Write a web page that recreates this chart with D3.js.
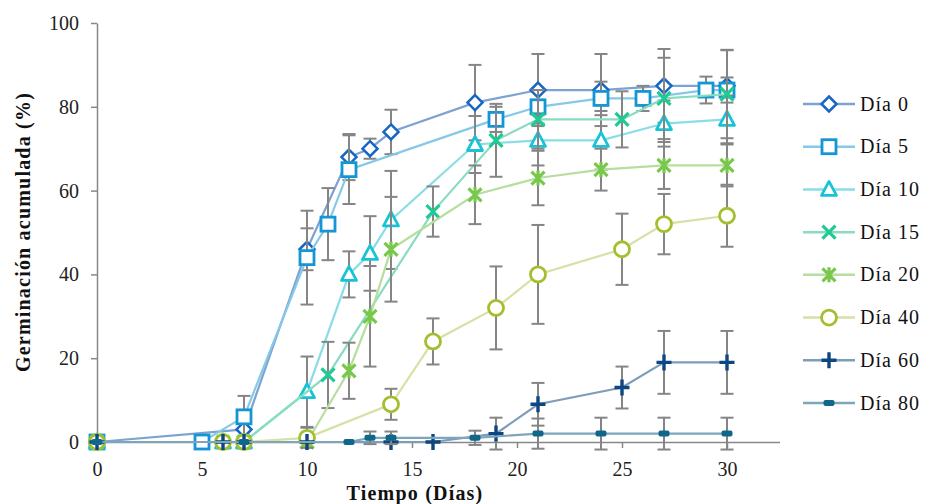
<!DOCTYPE html>
<html>
<head>
<meta charset="utf-8">
<script src="https://cdn.jsdelivr.net/npm/d3@7"></script>
<style>
  body { margin: 0; background: #fff; }
  text { font-family: "Liberation Serif", "DejaVu Serif", serif; }
</style>
</head>
<body>
<svg id="chart" width="925" height="504"></svg>
<script>
// datos
const names = ['Día 0', 'Día 5', 'Día 10', 'Día 15', 'Día 20', 'Día 40', 'Día 60', 'Día 80']

const days0 = [0, 7, 10, 12, 13, 14, 18, 21, 24, 27, 30]
const vals0 = [0, 3, 46, 68, 70, 74, 81, 84, 84, 85, 85]
const errs0 = [0, 0, 5, 5.5, 2.4, 5.3, 9, 8.6, 8.6, 8.8, 8.6]

const days5 = [0, 5, 7, 10, 11, 12, 19, 21, 24, 26, 29, 30]
const vals5 = [0, 0, 6, 44, 52, 65, 77, 80, 82, 82, 84, 84]
const errs5 = [0, 0, 5, 11.2, 8.6, 8.2, 3, 4, 4, 3, 3.2, 3]

const days10 = [0, 6, 7, 10, 12, 13, 14, 18, 21, 24, 27, 30]
const vals10 = [0, 0, 0, 12, 40, 45, 53, 71, 72, 72, 76, 77]
const errs10 = [0, 0, 0, 8.4, 5.5, 8.9, 11.7, 6.8, 6, 7, 5.5, 5.7]

const days15 = [0, 7, 11, 16, 19, 21, 25, 27, 30]
const vals15 = [0, 0, 16, 55, 72, 77, 77, 82, 83]
const errs15 = [0, 0, 7.9, 6, 8.7, 7, 6.7, 9.7, 10.5]

const days20 = [0, 6, 7, 10, 12, 13, 14, 18, 21, 24, 27, 30]
const vals20 = [0, 0, 0, 0, 17, 30, 46, 59, 63, 65, 66, 66]
const errs20 = [0, 0, 0, 0, 6.7, 12, 12.5, 7, 6.5, 5, 5.6, 5]

const days40 = [0, 6, 7, 10, 14, 16, 19, 21, 25, 27, 30]
const vals40 = [0, 0, 0, 1, 9, 24, 32, 40, 46, 52, 54]
const errs40 = [0, 0, 0, 2.4, 3.7, 5.5, 9.9, 11.8, 8.5, 7.2, 7.4]

const days60 = [0, 6, 7, 10, 14, 16, 19, 21, 25, 27, 30]
const vals60 = [0, 0, 0, 0, 0, 0, 2, 9, 13, 19, 19]
const errs60 = [0, 0, 0, 0, 0, 0, 3.8, 5.1, 5, 7.5, 7.5]

const days80 = [0, 7, 12, 13, 14, 18, 21, 24, 27, 30]
const vals80 = [0, 0, 0, 1, 1, 1, 2, 2, 2, 2]
const errs80 = [0, 0, 0, 1.5, 1.5, 1.7, 3.6, 3.8, 3.8, 3.8]

const xTicks = [0, 5, 10, 15, 20, 25, 30]
const yTicks = [0, 20, 40, 60, 80, 100]

const markerColors = ['#1766c4', '#1596d4', '#19c3d6', '#1ecb94', '#77c84b', '#a3bf30', '#0d4680', '#106789']
const lineColors = ['#7da3d2', '#86c8e8', '#8adde7', '#8adcc1', '#b6de9f', '#d5e1a6', '#7e9cbc', '#7ca6ba']
const shapes = ['diamond', 'square', 'triangle', 'x', 'asterisk', 'circle', 'plus', 'dash']

const allDays = [days0, days5, days10, days15, days20, days40, days60, days80]
const allVals = [vals0, vals5, vals10, vals15, vals20, vals40, vals60, vals80]
const allErrs = [errs0, errs5, errs10, errs15, errs20, errs40, errs60, errs80]

const series = names.map((name, i) => ({
  name,
  color: markerColors[i],
  line: lineColors[i],
  shape: shapes[i],
  points: allDays[i].map((d, j) => ({ day: d, value: allVals[i][j], err: allErrs[i][j] })),
}))

const svg = d3.select('#chart')
const x = d3.scaleLinear().domain([0, 32.5]).range([97, 779.5])
const y = d3.scaleLinear().domain([0, 100]).range([442, 23])
const axisColor = '#888'

// ejes
const yAxis = svg.append('g')
  .attr('transform', `translate(${x(0)},0)`)
  .call(d3.axisLeft(y).tickValues(yTicks).tickSize(6).tickSizeOuter(0).tickPadding(12))
const xAxis = svg.append('g')
  .attr('transform', `translate(0,${y(0)})`)
  .call(d3.axisBottom(x).tickValues(xTicks).tickSize(6).tickSizeOuter(0).tickPadding(14))
for (const g of [xAxis, yAxis]) {
  g.select('.domain').attr('stroke', axisColor).attr('stroke-width', 1.5)
  g.selectAll('.tick line').attr('stroke', axisColor).attr('stroke-width', 1.5)
  g.selectAll('.tick text')
    .attr('fill', '#222')
    .style('font-family', '"Liberation Serif", serif')
    .style('font-size', '20px')
}

svg.append('text')
  .attr('transform', 'translate(30,232) rotate(-90)')
  .attr('text-anchor', 'middle')
  .attr('font-size', 20)
  .attr('font-weight', 'bold')
  .attr('letter-spacing', 1.2)
  .attr('fill', '#111')
  .text('Germinación acumulada (%)')

svg.append('text')
  .attr('x', 415)
  .attr('y', 500)
  .attr('text-anchor', 'middle')
  .attr('font-size', 20)
  .attr('font-weight', 'bold')
  .attr('letter-spacing', 1.2)
  .attr('fill', '#111')
  .text('Tiempo (Días)')

function drawMarker(g, shape, color) {
  if (shape === 'diamond') {
    g.append('path').attr('d', 'M0,-7.5L7.5,0L0,7.5L-7.5,0Z')
      .attr('fill', '#fff').attr('stroke', color).attr('stroke-width', 2.5)
  } else if (shape === 'square') {
    g.append('rect').attr('x', -7).attr('y', -7).attr('width', 14).attr('height', 14)
      .attr('fill', '#fff').attr('stroke', color).attr('stroke-width', 2.8)
  } else if (shape === 'triangle') {
    g.append('path').attr('d', 'M0,-8L7.5,6L-7.5,6Z')
      .attr('fill', '#fff').attr('stroke', color).attr('stroke-width', 2.8).attr('stroke-linejoin', 'round')
  } else if (shape === 'x') {
    g.append('path').attr('d', 'M-6.5,-6.5L6.5,6.5M-6.5,6.5L6.5,-6.5')
      .attr('stroke', color).attr('stroke-width', 3.2)
  } else if (shape === 'asterisk') {
    g.append('path').attr('d', 'M-6.5,-6.5L6.5,6.5M-6.5,6.5L6.5,-6.5M0,-7.5L0,7.5')
      .attr('stroke', color).attr('stroke-width', 3.2)
  } else if (shape === 'circle') {
    g.append('circle').attr('r', 7.5)
      .attr('fill', '#fff').attr('stroke', color).attr('stroke-width', 2.8)
  } else if (shape === 'plus') {
    g.append('path').attr('d', 'M-7.5,0L7.5,0M0,-8L0,8')
      .attr('stroke', color).attr('stroke-width', 3.4)
  } else {
    g.append('rect').attr('x', -5.5).attr('y', -3).attr('width', 11).attr('height', 6).attr('rx', 2)
      .attr('fill', color)
  }
}

const line = d3.line().x((d) => x(d.day)).y((d) => y(d.value))
const cap = 6.5

series.forEach((s) => {
  const g = svg.append('g').attr('class', 'series')
  // barras de error
  const bars = g.selectAll('.err')
    .data(s.points.filter((p) => p.err > 0))
    .enter()
    .append('g')
    .attr('class', 'err')
    .attr('stroke', '#858585')
    .attr('stroke-width', 2)
  bars.append('line')
    .attr('x1', (d) => x(d.day)).attr('x2', (d) => x(d.day))
    .attr('y1', (d) => y(d.value + d.err)).attr('y2', (d) => y(d.value - d.err))
  bars.append('line')
    .attr('x1', (d) => x(d.day) - cap).attr('x2', (d) => x(d.day) + cap)
    .attr('y1', (d) => y(d.value + d.err)).attr('y2', (d) => y(d.value + d.err))
  bars.append('line')
    .attr('x1', (d) => x(d.day) - cap).attr('x2', (d) => x(d.day) + cap)
    .attr('y1', (d) => y(d.value - d.err)).attr('y2', (d) => y(d.value - d.err))

  g.append('path')
    .datum(s.points)
    .attr('d', line)
    .attr('fill', 'none')
    .attr('stroke', s.line)
    .attr('stroke-width', 2.2)

  g.selectAll('.mk')
    .data(s.points)
    .enter()
    .append('g')
    .attr('class', 'mk')
    .attr('transform', (d) => `translate(${x(d.day)},${y(d.value)})`)
    .each(function () { drawMarker(d3.select(this), s.shape, s.color) })
})

// leyenda
const legendY = d3.scalePoint().domain(names).range([104, 403])
const legend = svg.append('g').attr('class', 'legend')
series.forEach((s) => {
  const row = legend.append('g').attr('transform', `translate(0,${legendY(s.name)})`)
  row.append('line').attr('x1', 803).attr('x2', 855).attr('y1', 0).attr('y2', 0)
    .attr('stroke', s.line).attr('stroke-width', 2.5)
  drawMarker(row.append('g').attr('transform', 'translate(829,0)'), s.shape, s.color)
  row.append('text')
    .attr('x', 860)
    .attr('y', 6.5)
    .attr('font-size', 20)
    .attr('letter-spacing', 1)
    .attr('fill', '#111')
    .text(s.name)
})
</script>
</body>
</html>
